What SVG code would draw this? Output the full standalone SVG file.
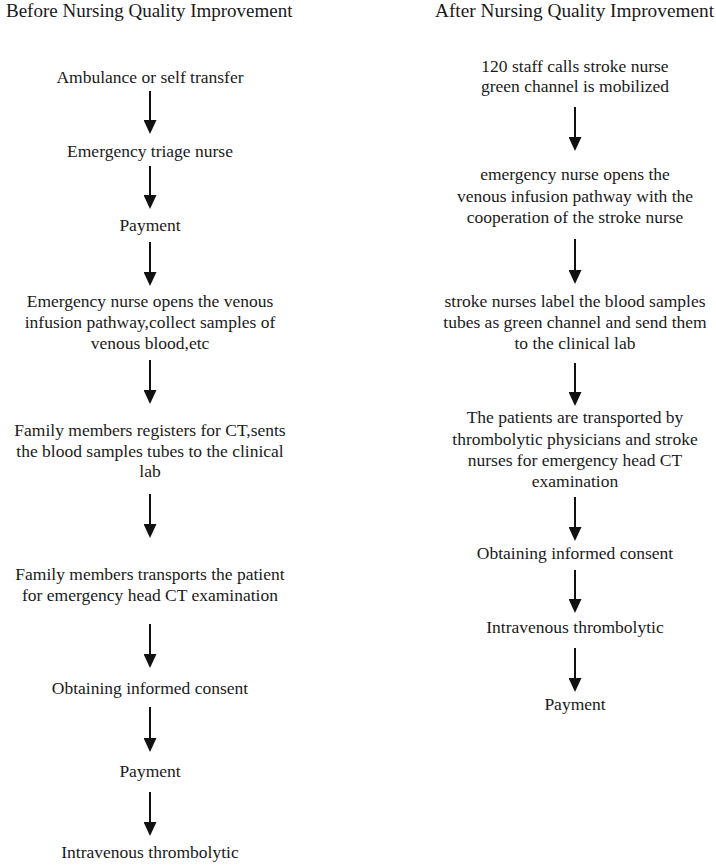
<svg xmlns="http://www.w3.org/2000/svg" width="716" height="867" viewBox="0 0 716 867">
<style>
  .title { font-family: "Liberation Serif", "Times New Roman", serif; font-size: 19px; fill: #1a1a1a; }
  .lbl { font-family: "Liberation Serif", "Times New Roman", serif; font-size: 17.5px; text-anchor: middle; fill: #1a1a1a; }
  .arr { stroke: #111; stroke-width: 2; fill: none; marker-end: url(#ah); }
</style>
<defs>
  <marker id="ah" markerUnits="userSpaceOnUse" markerWidth="14" markerHeight="13" viewBox="0 0 14 13" refX="7" refY="6.5" orient="auto">
    <path d="M0,0 L14,6.5 L0,13 z" fill="#111"/>
  </marker>
</defs>
<rect width="716" height="867" fill="#fff"/>

<g id="title-before"><text class="title" x="6" y="17">Before Nursing Quality Improvement</text></g>
<g id="title-after"><text class="title" x="714" y="17" text-anchor="end" style="font-size:19.3px">After Nursing Quality Improvement</text></g>

<g id="b1"><text class="lbl" x="150" y="83">Ambulance or self transfer</text></g>
<g id="b2"><text class="lbl" x="150" y="157">Emergency triage nurse</text></g>
<g id="b3"><text class="lbl" x="150" y="231">Payment</text></g>
<g id="b4"><text class="lbl" x="150" y="307">Emergency nurse opens the venous</text><text class="lbl" x="150" y="328">infusion pathway,collect samples of</text><text class="lbl" x="150" y="349">venous blood,etc</text></g>
<g id="b5"><text class="lbl" x="150" y="436">Family members registers for CT,sents</text><text class="lbl" x="150" y="457">the blood samples tubes to the clinical</text><text class="lbl" x="150" y="477">lab</text></g>
<g id="b6"><text class="lbl" x="150" y="580">Family members transports the patient</text><text class="lbl" x="150" y="601">for emergency head CT examination</text></g>
<g id="b7"><text class="lbl" x="150" y="694">Obtaining informed consent</text></g>
<g id="b8"><text class="lbl" x="150" y="777">Payment</text></g>
<g id="b9"><text class="lbl" x="150" y="858">Intravenous thrombolytic</text></g>

<g id="a1"><text class="lbl" x="575" y="72">120 staff calls stroke nurse</text><text class="lbl" x="575" y="92">green channel is mobilized</text></g>
<g id="a2"><text class="lbl" x="575" y="180">emergency nurse opens the</text><text class="lbl" x="575" y="202">venous infusion pathway with the</text><text class="lbl" x="575" y="223">cooperation of the stroke nurse</text></g>
<g id="a3"><text class="lbl" x="575" y="307">stroke nurses label the blood samples</text><text class="lbl" x="575" y="328">tubes as green channel and send them</text><text class="lbl" x="575" y="349">to the clinical lab</text></g>
<g id="a4"><text class="lbl" x="575" y="423">The patients are transported by</text><text class="lbl" x="575" y="445">thrombolytic physicians and stroke</text><text class="lbl" x="575" y="466">nurses for emergency head CT</text><text class="lbl" x="575" y="487">examination</text></g>
<g id="a5"><text class="lbl" x="575" y="559">Obtaining informed consent</text></g>
<g id="a6"><text class="lbl" x="575" y="633">Intravenous thrombolytic</text></g>
<g id="a7"><text class="lbl" x="575" y="710">Payment</text></g>

<g id="connectors">
  <line class="arr" x1="150" y1="91" x2="150" y2="127"/>
  <line class="arr" x1="150" y1="166" x2="150" y2="202"/>
  <line class="arr" x1="150" y1="242" x2="150" y2="279"/>
  <line class="arr" x1="150" y1="360" x2="150" y2="397"/>
  <line class="arr" x1="150" y1="494" x2="150" y2="531"/>
  <line class="arr" x1="150" y1="624" x2="150" y2="661"/>
  <line class="arr" x1="150" y1="707" x2="150" y2="745"/>
  <line class="arr" x1="150" y1="792" x2="150" y2="829"/>
  <line class="arr" x1="575" y1="107" x2="575" y2="144"/>
  <line class="arr" x1="575" y1="239" x2="575" y2="277"/>
  <line class="arr" x1="575" y1="363" x2="575" y2="399"/>
  <line class="arr" x1="575" y1="497" x2="575" y2="534"/>
  <line class="arr" x1="575" y1="570" x2="575" y2="606"/>
  <line class="arr" x1="575" y1="648" x2="575" y2="685"/>
</g>
</svg>
